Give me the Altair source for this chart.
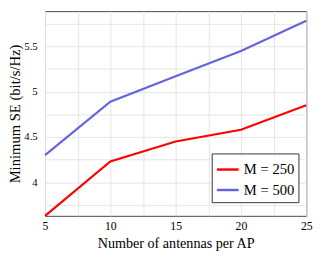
import altair as alt
import pandas as pd

antennas = [5, 10, 15, 20, 25]
se_m250 = [3.63, 4.23, 4.45, 4.58, 4.85]
se_m500 = [4.30, 4.89, 5.17, 5.45, 5.785]
series_names = ["M = 250", "M = 500"]
series_colors = ["#ff0000", "#6464dc"]
x_ticks = [5, 7.5, 10, 12.5, 15, 17.5, 20, 22.5, 25]
y_ticks = [3.75, 4.0, 4.25, 4.5, 4.75, 5.0, 5.25, 5.5, 5.75]

rows = []
for name, vals in zip(series_names, [se_m250, se_m500]):
    for a, v in zip(antennas, vals):
        rows.append({"antennas": a, "se": v, "series": name})
df = pd.DataFrame(rows)

font = "Liberation Serif"

chart = alt.Chart(df).mark_line(strokeWidth=2.2).encode(
    x=alt.X("antennas:Q", scale=alt.Scale(domain=[5, 25], nice=False),
            axis=alt.Axis(values=x_ticks, title="Number of antennas per AP",
                          labelExpr="datum.value % 5 === 0 ? format(datum.value, 'd') : ''",
                          grid=True, gridColor="#e4e4e4", ticks=False, domain=False,
                          labelFont=font, labelFontSize=12, labelColor="black",
                          labelPadding=5, titleFont=font, titleFontSize=14.5,
                          titleFontWeight="normal", titleColor="black", titlePadding=5,
                          labelFlush=False)),
    y=alt.Y("se:Q", scale=alt.Scale(domain=[3.63, 5.89], nice=False, zero=False),
            axis=alt.Axis(values=y_ticks, title="Minimum SE (bit/s/Hz)",
                          labelExpr="(datum.value * 2) % 1 === 0 ? format(datum.value, '') : ''",
                          grid=True, gridColor="#e4e4e4", ticks=False, domain=False,
                          labelFont=font, labelFontSize=11, labelColor="black",
                          labelPadding=8, titleFont=font, titleFontSize=15,
                          titleFontWeight="normal", titleColor="black", titlePadding=1,
                          labelFlush=False)),
    color=alt.Color("series:N",
                    scale=alt.Scale(domain=series_names, range=series_colors),
                    legend=alt.Legend(title=None, orient="none", legendX=171, legendY=146,
                                      strokeColor="#333333", fillColor="white",
                                      padding=4, symbolType="stroke", symbolStrokeWidth=2.5,
                                      symbolSize=500, labelFont=font, labelFontSize=15,
                                      labelColor="black", rowPadding=-8, labelOffset=4)),
).properties(
    width=268, height=210,
    autosize=alt.AutoSizeParams(type="none"),
    padding={"left": 38, "top": 0, "right": 10, "bottom": 39},
).configure_view(stroke="#444444", strokeWidth=1)

chart.save("out.html", embed_options={"renderer": "svg", "actions": False})
